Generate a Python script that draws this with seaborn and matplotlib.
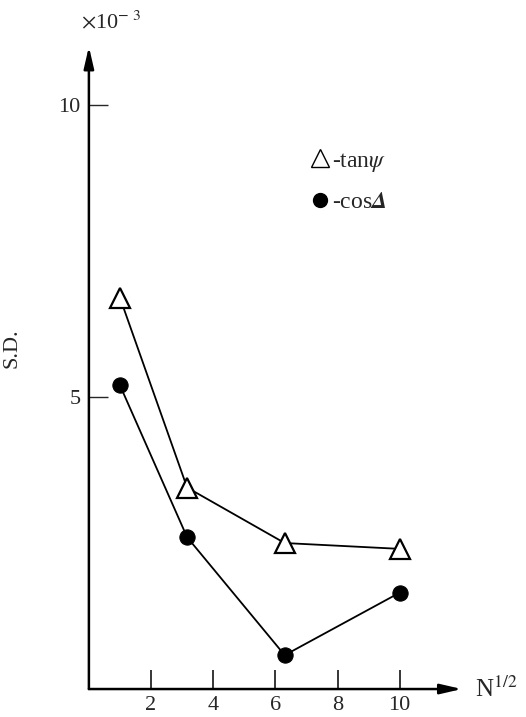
import matplotlib
matplotlib.use("Agg")
import matplotlib.pyplot as plt
import numpy as np
import pandas as pd
import seaborn as sns
from matplotlib.lines import Line2D

# values (S.D. in units of 1e-3)
n_half = [1.0, 3.16, 6.3, 10.0]
sd_tan = [6.7, 3.45, 2.5, 2.4]
sd_cos = [5.2, 2.6, 0.58, 1.65]

sns.set_style("white")
plt.rcParams['font.family'] = ['Liberation Serif', 'DejaVu Serif']
plt.rcParams['mathtext.fontset'] = 'stix'

df = pd.DataFrame({
    "N": n_half * 2,
    "SD": sd_tan + sd_cos,
    "series": ["tan"] * 4 + ["cos"] * 4,
})

fig = plt.figure(figsize=(5.26, 7.17), dpi=100)
ax = fig.add_axes([0.169, 0.039, 0.709, 0.896])

sns.lineplot(data=df[df.series == "tan"], x="N", y="SD", color="black", lw=1.3,
             marker="^", markersize=14, markerfacecolor="white",
             markeredgecolor="black", markeredgewidth=1.6, ax=ax, legend=False)
sns.lineplot(data=df[df.series == "cos"], x="N", y="SD", color="black", lw=1.3,
             marker="o", markersize=11, markerfacecolor="black",
             markeredgecolor="black", ax=ax, legend=False)

ax.set_xlim(0, 12.0)
ax.set_ylim(0, 11.0)
for s in ax.spines.values():
    s.set_visible(False)

# axes with arrow heads
ax.annotate("", xy=(1, 0), xytext=(0, 0), xycoords="axes fraction",
            arrowprops=dict(arrowstyle="-|>,head_length=1.3,head_width=0.3",
                            lw=1.8, color="black", shrinkA=0, shrinkB=0))
ax.annotate("", xy=(0, 1), xytext=(0, 0), xycoords="axes fraction",
            arrowprops=dict(arrowstyle="-|>,head_length=1.3,head_width=0.3",
                            lw=1.8, color="black", shrinkA=0, shrinkB=0))

ax.set_xticks([2, 4, 6, 8, 10])
ax.set_yticks([5, 10])
ax.tick_params(axis="x", direction="in", length=14, width=1.3, labelsize=16, pad=5)
ax.tick_params(axis="y", direction="in", length=14, width=1.0, labelsize=16, pad=6)
ax.tick_params(bottom=True, left=True)

ax.set_xlabel("")
ax.set_ylabel("S.D.", fontsize=16)
ax.yaxis.set_label_coords(-0.181, 0.531)
ax.text(1.035, 0.0, r"N$^{1/2}$", transform=ax.transAxes, fontsize=18,
        ha="left", va="center")
ax.text(-0.02, 1.038, r"$\times$10$^{-\ 3}$", transform=ax.transAxes,
        fontsize=16, ha="left", va="center")

handles = [
    Line2D([], [], ls="none", marker="^", markersize=13, markerfacecolor="white",
           markeredgecolor="black", markeredgewidth=1.0),
    Line2D([], [], ls="none", marker="o", markersize=10, color="black"),
]
ax.legend(handles, [r"-tan$\psi$", r"-cos$\mathbfit{\Delta}$"], frameon=False,
          fontsize=17, loc="upper left", bbox_to_anchor=(0.54, 0.872),
          handlelength=0.7, handletextpad=0.15, labelspacing=0.75)

plt.savefig("out.png", dpi=100)
